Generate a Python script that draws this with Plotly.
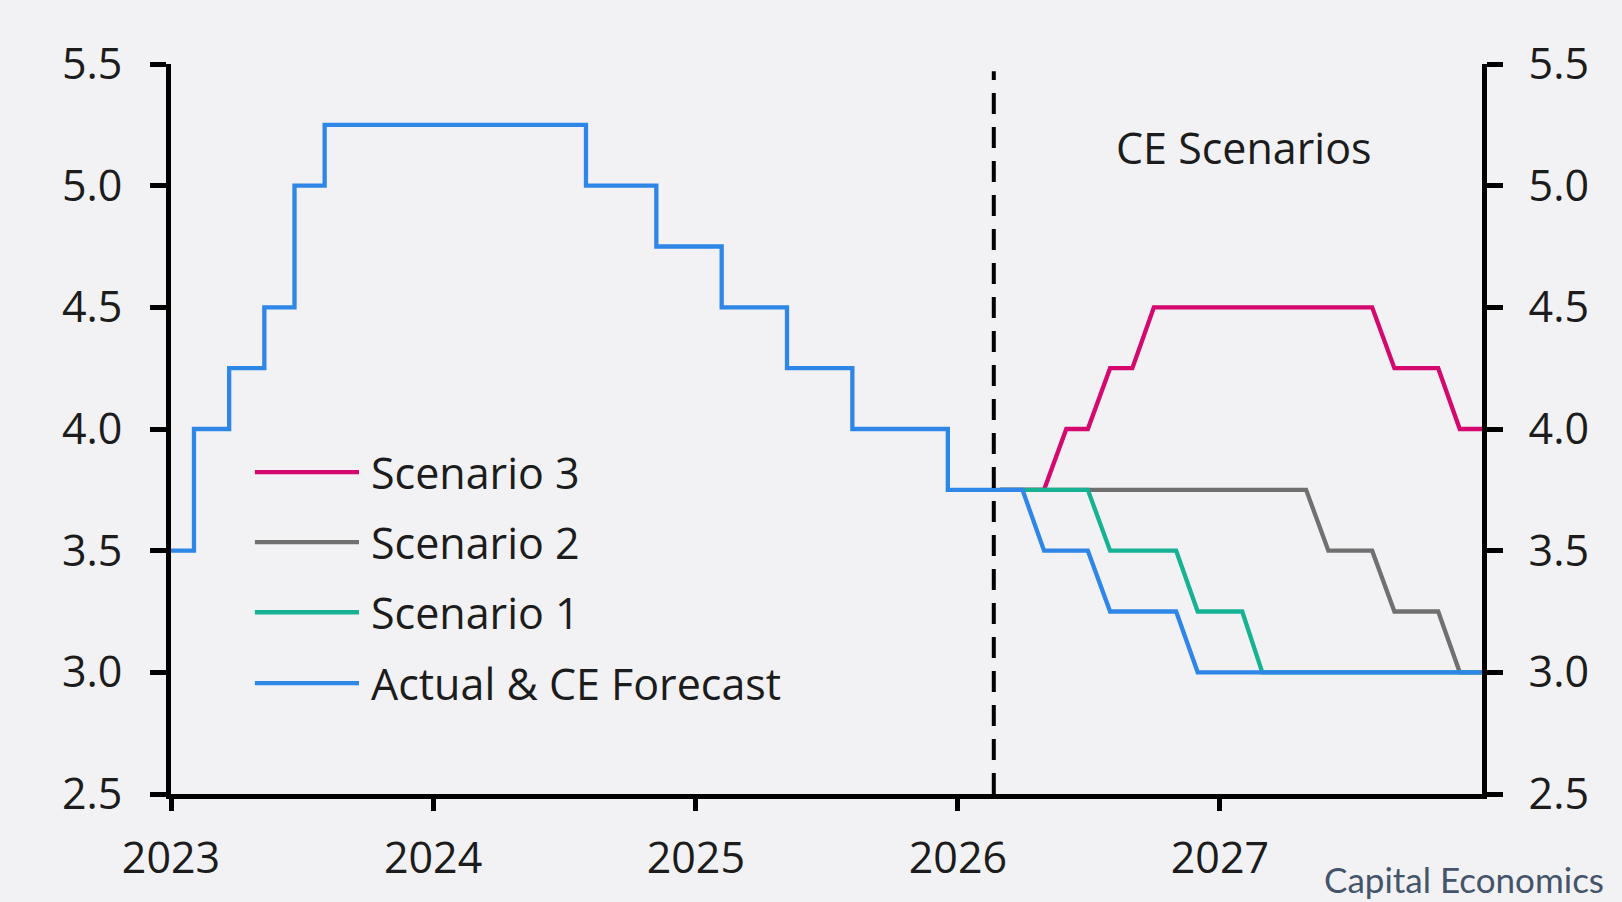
import plotly.graph_objects as go

# ---- data ----
hist_dates = ["2023-01-01", "2023-02-02", "2023-03-23", "2023-05-11", "2023-06-22",
              "2023-08-03", "2024-08-01", "2024-11-07", "2025-02-06", "2025-05-08",
              "2025-08-07", "2025-12-18", "2026-03-01"]
hist_rates = [3.5, 4.0, 4.25, 4.5, 5.0, 5.25, 5.0, 4.75, 4.5, 4.25, 4.0, 3.75, 3.75]

fc_dates = ["2026-03-01", "2026-04-01", "2026-05-01", "2026-06-01", "2026-07-01",
            "2026-08-01", "2026-09-01", "2026-10-01", "2026-11-01", "2026-12-01",
            "2027-01-01", "2027-02-01", "2027-03-01", "2027-04-01", "2027-05-01",
            "2027-06-01", "2027-07-01", "2027-08-01", "2027-09-01", "2027-10-01",
            "2027-11-01", "2027-12-01", "2028-01-01"]
fc_actual = [3.75, 3.75, 3.5, 3.5, 3.5, 3.25, 3.25, 3.25, 3.25, 3.0,
             3.0, 3.0, 3.0, 3.0, 3.0, 3.0, 3.0, 3.0, 3.0, 3.0, 3.0, 3.0, 3.0]
scenario1 = [3.75, 3.75, 3.75, 3.75, 3.75, 3.5, 3.5, 3.5, 3.5, 3.25,
             3.25, 3.25, 3.0, 3.0, 3.0, 3.0, 3.0, 3.0, 3.0, 3.0, 3.0, 3.0, 3.0]
scenario2 = [3.75, 3.75, 3.75, 3.75, 3.75, 3.75, 3.75, 3.75, 3.75, 3.75,
             3.75, 3.75, 3.75, 3.75, 3.75, 3.5, 3.5, 3.5, 3.25, 3.25, 3.25, 3.0, 3.0]
scenario3 = [3.75, 3.75, 3.75, 4.0, 4.0, 4.25, 4.25, 4.5, 4.5, 4.5,
             4.5, 4.5, 4.5, 4.5, 4.5, 4.5, 4.5, 4.5, 4.25, 4.25, 4.25, 4.0, 4.0]

series_names = ["Scenario 3", "Scenario 2", "Scenario 1", "Actual & CE Forecast"]
series_colors = ["#d4086e", "#707070", "#17b294", "#2e86e6"]

x_ticks = ["2023-01-01", "2024-01-01", "2025-01-01", "2026-01-01", "2027-01-01"]
x_tick_labels = ["2023", "2024", "2025", "2026", "2027"]
y_ticks = [2.5, 3.0, 3.5, 4.0, 4.5, 5.0, 5.5]
x_range = ["2023-01-01", "2028-01-01"]
y_range = [2.5, 5.5]
divider_date = "2026-02-20"
divider_top = 5.47

FONT = "Open Sans"
FS = 43
TXT = "#1c1c1c"
BG = "#f2f2f4"
LW = 4.3

fig = go.Figure()
for name, color, vals in zip(series_names[:3], series_colors[:3], [scenario3, scenario2, scenario1]):
    fig.add_trace(go.Scatter(x=fc_dates, y=vals, mode="lines", name=name,
                             line=dict(color=color, width=LW), showlegend=False))
fig.add_trace(go.Scatter(x=fc_dates, y=fc_actual, mode="lines", name=series_names[3],
                         line=dict(color=series_colors[3], width=LW), showlegend=False))
fig.add_trace(go.Scatter(x=hist_dates, y=hist_rates, mode="lines", name=series_names[3],
                         line=dict(color=series_colors[3], width=LW, shape="hv"), showlegend=False))
# invisible trace to anchor right axis
fig.add_trace(go.Scatter(x=hist_dates[:1], y=hist_rates[:1], yaxis="y2", mode="lines",
                         line=dict(width=0), showlegend=False, hoverinfo="skip"))

# divider
fig.add_shape(type="line", xref="x", yref="y", x0=divider_date, x1=divider_date,
              y0=y_range[0], y1=divider_top, line=dict(color="black", width=4, dash="21px,13px"))

# custom legend
leg_y = [0.441, 0.345, 0.249, 0.152]
for name, color, yy in zip(series_names, series_colors, leg_y):
    fig.add_shape(type="line", xref="paper", yref="paper", x0=0.064, x1=0.1434, y0=yy, y1=yy,
                  line=dict(color=color, width=LW))
    fig.add_annotation(xref="paper", yref="paper", x=0.151, y=yy, text=name, showarrow=False,
                       xanchor="left", yanchor="middle", font=dict(family=FONT, size=FS, color=TXT))

fig.add_annotation(xref="paper", yref="paper", x=0.8185, y=0.885, text="CE Scenarios",
                   showarrow=False, xanchor="center", yanchor="middle",
                   font=dict(family=FONT, size=FS, color=TXT))
fig.add_annotation(xref="paper", yref="paper", x=1.094, y=-0.1468, text="Capital Economics",
                   showarrow=False, xanchor="right", yanchor="bottom", borderpad=0,
                   font=dict(family="Lato", size=35, color="#44546a"))

axis_common = dict(showgrid=False, zeroline=False, showline=True, linecolor="black", linewidth=5,
                   ticks="outside", tickcolor="black", tickwidth=5, automargin=False,
                   tickfont=dict(family=FONT, size=FS, color=TXT))

fig.update_layout(
    width=1622, height=902,
    margin=dict(l=171, r=140, t=64, b=108),
    paper_bgcolor=BG, plot_bgcolor=BG,
    template="none",
    showlegend=False,
    xaxis=dict(range=x_range, tickvals=x_ticks, ticktext=x_tick_labels, ticklen=12,
               ticklabelstandoff=10, **axis_common),
    yaxis=dict(range=y_range, tickvals=y_ticks, tickformat=".1f", ticklen=16,
               ticklabelstandoff=19, side="left", **axis_common),
    yaxis2=dict(range=y_range, tickvals=y_ticks, tickformat=".1f", ticklen=16,
                ticklabelstandoff=17, side="right", overlaying="y", **axis_common),
)

fig.write_html("out.html")
